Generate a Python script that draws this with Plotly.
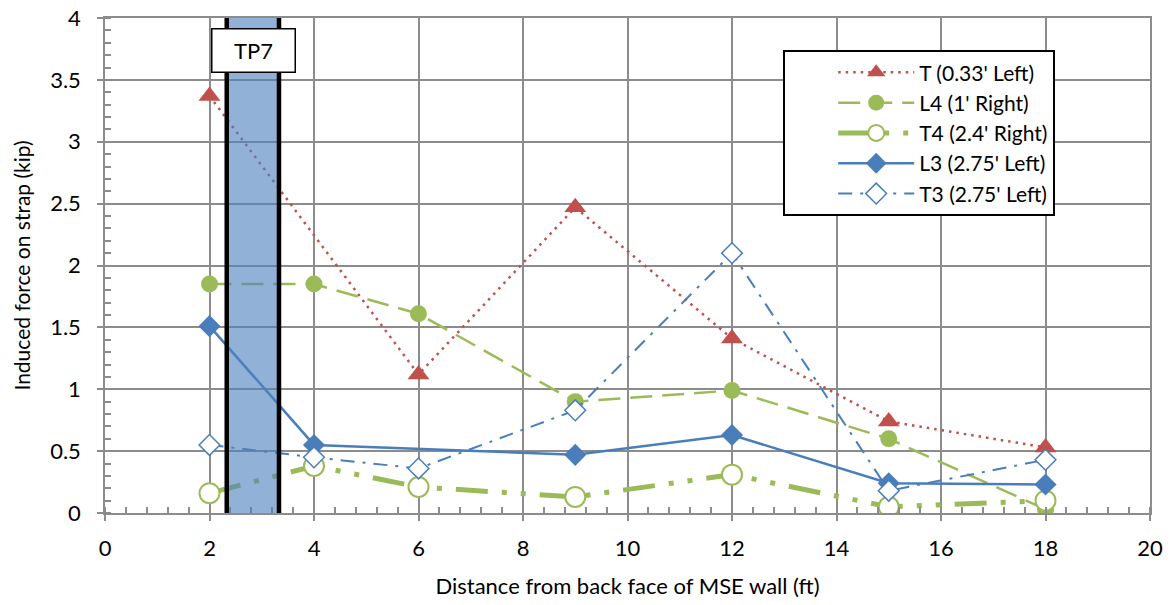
import plotly.graph_objects as go

# Data
t_x = [2, 6, 9, 12, 15, 18]
t_y = [3.37, 1.12, 2.47, 1.41, 0.74, 0.53]
l4_x = [2, 4, 6, 9, 12, 15, 18]
l4_y = [1.85, 1.85, 1.61, 0.90, 0.99, 0.60, 0.03]
t4_x = [2, 4, 6, 9, 12, 15, 18]
t4_y = [0.16, 0.38, 0.21, 0.13, 0.31, 0.05, 0.10]
l3_x = [2, 4, 9, 12, 15, 18]
l3_y = [1.51, 0.55, 0.47, 0.63, 0.24, 0.23]
t3_x = [2, 4, 6, 9, 12, 15, 18]
t3_y = [0.55, 0.45, 0.36, 0.83, 2.10, 0.18, 0.43]
tp7_range = [2.33, 3.33]
tp7_label = "TP7"

RED = "#C0504D"
GREEN = "#9BBB59"
BLUE = "#4A7EBB"
FONT = "Lato"

fig = go.Figure()
fig.add_trace(go.Scatter(x=t_x, y=t_y, name="T (0.33' Left)", mode="lines+markers",
                         line=dict(color=RED, width=2.5, dash="2.5px,5px"),
                         marker=dict(symbol="triangle-up", size=19, color=RED)))
fig.add_trace(go.Scatter(x=l4_x, y=l4_y, name="L4 (1' Right)", mode="lines+markers",
                         line=dict(color=GREEN, width=2.5, dash="22px,10px"),
                         marker=dict(symbol="circle", size=17, color=GREEN)))
fig.add_trace(go.Scatter(x=t4_x, y=t4_y, name="T4 (2.4' Right)", mode="lines+markers",
                         line=dict(color=GREEN, width=5, dash="32px,14px,5px,14px,5px,14px"),
                         marker=dict(symbol="circle", size=20, color="white",
                                     line=dict(color=GREEN, width=2))))
fig.add_trace(go.Scatter(x=l3_x, y=l3_y, name="L3 (2.75' Left)", mode="lines+markers",
                         line=dict(color=BLUE, width=2.5),
                         marker=dict(symbol="diamond", size=17, color=BLUE)))
fig.add_trace(go.Scatter(x=t3_x, y=t3_y, name="T3 (2.75' Left)", mode="lines+markers",
                         line=dict(color=BLUE, width=2, dash="14px,8px,3px,8px"),
                         marker=dict(symbol="diamond", size=16, color="white",
                                     line=dict(color=BLUE, width=1.5))))

# TP7 shaded region
fig.add_shape(type="rect", xref="x", yref="y", x0=tp7_range[0], x1=tp7_range[1], y0=0, y1=4,
              fillcolor="rgba(79,129,189,0.62)", line=dict(width=0), layer="above")
for xv in tp7_range:
    fig.add_shape(type="line", xref="x", yref="y", x0=xv, x1=xv, y0=0, y1=4,
                  line=dict(color="black", width=4.5), layer="above")
fig.add_annotation(x=2.84, y=3.74, xref="x", yref="y", text=tp7_label,
                   showarrow=False, font=dict(family=FONT, size=22, color="black"),
                   bgcolor="white", bordercolor="black", borderwidth=1.5,
                   width=80, height=40)

grid = "#8C8C8C"
common = dict(showgrid=True, gridcolor=grid, gridwidth=1.5, automargin=False,
              showline=True, mirror=True, linecolor=grid, linewidth=1.5, zeroline=False,
              ticks="outside", ticklen=6, tickcolor=grid, tickwidth=1.5,
              ticklabeloverflow="allow",
              tickfont=dict(family=FONT, size=22, color="black"))
fig.update_xaxes(range=[0, 20], dtick=2, tick0=0, ticklabelstandoff=9,
                 minor=dict(dtick=0.4, ticks="inside", ticklen=6, tickcolor=grid, showgrid=False),
                 title=dict(text="Distance from back face of MSE wall (ft)",
                            font=dict(family=FONT, size=22, color="black"), standoff=18),
                 **common)
fig.update_yaxes(range=[0, 4], dtick=0.5, tick0=0, ticklabelstandoff=12,
                 minor=dict(dtick=0.1, ticks="inside", ticklen=6, tickcolor=grid, showgrid=False),
                 title=dict(text="Induced force on strap (kip)",
                            font=dict(family=FONT, size=21, color="black"), standoff=14),
                 **common)

fig.update_layout(
    width=1171, height=605,
    margin=dict(l=105, r=21, t=18, b=92),
    plot_bgcolor="white", paper_bgcolor="white",
    font=dict(family=FONT, size=22, color="black"),
    legend=dict(x=0.649, y=0.935, xanchor="left", yanchor="top",
                bgcolor="white", bordercolor="black", borderwidth=2,
                font=dict(family=FONT, size=21, color="black"),
                itemwidth=76, indentation=48, tracegroupgap=0),
)

fig.write_html("out.html", config={"displayModeBar": False},
               post_script="document.body.style.margin='0';document.body.style.overflow='hidden';")
